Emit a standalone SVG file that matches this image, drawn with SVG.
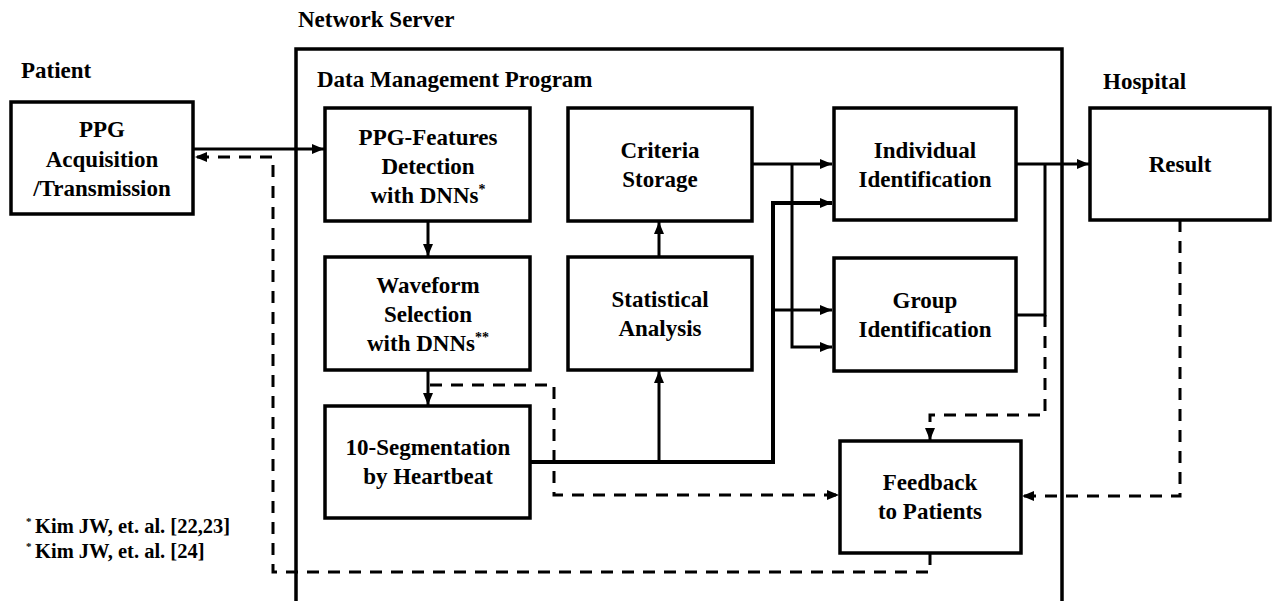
<svg xmlns="http://www.w3.org/2000/svg" width="1273" height="601" viewBox="0 0 1273 601">
  <style>
    text { font-family: "Liberation Serif", "Times New Roman", serif; font-weight: bold; fill: #000; }
    .title { font-size: 23px; }
    .lbl { font-size: 23px; text-anchor: middle; }
    .sup { font-size: 14px; }
    .note { font-size: 20.5px; }
    .box { fill: #fff; stroke: #000; stroke-width: 3.5; }
    .frame { fill: none; stroke: #000; stroke-width: 3.5; }
    .line { fill: none; stroke: #000; stroke-width: 3; }
    .thick { fill: none; stroke: #000; stroke-width: 4; }
    .dash { fill: none; stroke: #000; stroke-width: 3; stroke-dasharray: 12 9; }
  </style>
  <defs>
    <marker id="arrow" viewBox="0 0 12 10" refX="12" refY="5" markerWidth="12" markerHeight="10" markerUnits="userSpaceOnUse" orient="auto">
      <path d="M0,0 L12,5 L0,10 z" fill="#000"/>
    </marker>
  </defs>

  <!-- Section titles -->
  <text class="title" x="298" y="27">Network Server</text>
  <text class="title" x="21" y="78">Patient</text>
  <text class="title" x="317" y="87">Data Management Program</text>
  <text class="title" x="1103" y="89">Hospital</text>

  <!-- Network server frame -->
  <rect class="frame" x="296" y="49" width="766" height="560"/>

  <!-- Connectors -->
  <g id="connectors">
    <path class="line" d="M193,149 H324" marker-end="url(#arrow)"/>
    <path class="dash" d="M930,553 V572 H273 V157 H195" marker-end="url(#arrow)"/>
    <path class="line" d="M428,221 V256" marker-end="url(#arrow)"/>
    <path class="line" d="M428,370 V405" marker-end="url(#arrow)"/>
    <path class="dash" d="M430,385 H554 V495 H839" marker-end="url(#arrow)"/>
    <path class="thick" d="M530,462 H773 V203 H832" marker-end="url(#arrow)"/>
    <path class="line" d="M659,462 V371" marker-end="url(#arrow)"/>
    <path class="line" d="M773,310 H832" marker-end="url(#arrow)"/>
    <path class="line" d="M659,257 V222" marker-end="url(#arrow)"/>
    <path class="line" d="M752,164 H832" marker-end="url(#arrow)"/>
    <path class="line" d="M792,164 V347 H832" marker-end="url(#arrow)"/>
    <path class="line" d="M1016,164 H1089" marker-end="url(#arrow)"/>
    <path class="line" d="M1016,315 H1045 V164"/>
    <path class="dash" d="M1045,315 V415 H930 V440" marker-end="url(#arrow)"/>
    <path class="dash" d="M1180,220 V496 H1022" marker-end="url(#arrow)"/>
  </g>

  <!-- Nodes -->
  <g id="ppg-acquisition">
    <rect class="box" x="11" y="102" width="182" height="112"/>
    <text class="lbl" x="102" y="137">PPG</text>
    <text class="lbl" x="102" y="167">Acquisition</text>
    <text class="lbl" x="102" y="196">/Transmission</text>
  </g>
  <g id="features-detection">
    <rect class="box" x="325" y="108" width="205" height="113"/>
    <text class="lbl" x="428" y="145">PPG-Features</text>
    <text class="lbl" x="428" y="174">Detection</text>
    <text class="lbl" x="428" y="203">with DNNs<tspan class="sup" dy="-9">*</tspan></text>
  </g>
  <g id="criteria-storage">
    <rect class="box" x="568" y="108" width="184" height="113"/>
    <text class="lbl" x="660" y="158">Criteria</text>
    <text class="lbl" x="660" y="187">Storage</text>
  </g>
  <g id="individual-identification">
    <rect class="box" x="834" y="108" width="182" height="112"/>
    <text class="lbl" x="925" y="158">Individual</text>
    <text class="lbl" x="925" y="187">Identification</text>
  </g>
  <g id="result">
    <rect class="box" x="1090" y="108" width="180" height="112"/>
    <text class="lbl" x="1180" y="172">Result</text>
  </g>
  <g id="waveform-selection">
    <rect class="box" x="325" y="257" width="205" height="113"/>
    <text class="lbl" x="428" y="293">Waveform</text>
    <text class="lbl" x="428" y="322">Selection</text>
    <text class="lbl" x="428" y="351">with DNNs<tspan class="sup" dy="-9">**</tspan></text>
  </g>
  <g id="statistical-analysis">
    <rect class="box" x="568" y="257" width="184" height="113"/>
    <text class="lbl" x="660" y="307">Statistical</text>
    <text class="lbl" x="660" y="336">Analysis</text>
  </g>
  <g id="group-identification">
    <rect class="box" x="834" y="258" width="182" height="113"/>
    <text class="lbl" x="925" y="308">Group</text>
    <text class="lbl" x="925" y="337">Identification</text>
  </g>
  <g id="segmentation">
    <rect class="box" x="325" y="406" width="205" height="112"/>
    <text class="lbl" x="428" y="455">10-Segmentation</text>
    <text class="lbl" x="428" y="484">by Heartbeat</text>
  </g>
  <g id="feedback">
    <rect class="box" x="840" y="441" width="181" height="112"/>
    <text class="lbl" x="930" y="490">Feedback</text>
    <text class="lbl" x="930" y="519">to Patients</text>
  </g>

  <!-- References -->
  <g id="footnotes">
    <text class="note" x="26" y="533"><tspan font-size="11px" dy="-8">*</tspan><tspan x="35" dy="8">Kim JW, et. al. [22,23]</tspan></text>
    <text class="note" x="26" y="558"><tspan font-size="11px" dy="-8">*</tspan><tspan x="35" dy="8">Kim JW, et. al. [24]</tspan></text>
  </g>
</svg>
